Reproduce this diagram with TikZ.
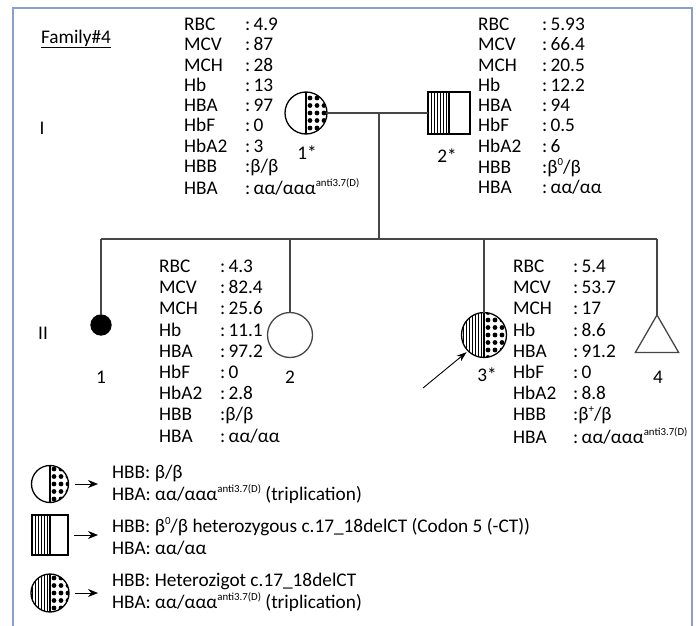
\documentclass[tikz,border=0pt]{standalone}
\usepackage{fontspec}
\setmainfont{Carlito}
\usetikzlibrary{shapes.geometric, arrows.meta}

\definecolor{framebl}{RGB}{138,158,208}
\definecolor{linegr}{RGB}{70,70,70}

% small raised text for allele names
\newcommand{\supr}[1]{\raisebox{0.42em}{\fontsize{10.8}{10.8}\selectfont #1}}
% fill patterns of the half symbols
\newcommand{\dotsR}{%
    \foreach \u in {4,11,...,30} \foreach \v in {-30,-22.5,...,30}
        \fill ([shift={(\u,\v)}]path picture bounding box.center) circle (2.4);
    \draw[line width=1.2pt] (path picture bounding box.north) -- (path picture bounding box.south);}
\newcommand{\stripesL}{%
    \foreach \u in {3,6,...,27}
        \draw[line width=0.8pt] ([xshift=-\u*1pt]path picture bounding box.north) -- ([xshift=-\u*1pt]path picture bounding box.south);
    \draw[line width=1.2pt] (path picture bounding box.north) -- (path picture bounding box.south);}

\tikzset{
    pline/.style={linegr, line width=1.3pt},
    person/.style={draw, line width=1.3pt, inner sep=0pt, outer sep=0pt},
    dotright/.style={path picture={\dotsR}},
    stripeleft/.style={path picture={\stripesL}},
    stripedot/.style={path picture={\stripesL\dotsR}},
    data/.style={anchor=base west, inner sep=0pt, font=\fontsize{19.3}{#1}\selectfont},
    note/.style={anchor=west, align=left, inner sep=0pt, font=\fontsize{19.3}{22}\selectfont},
    karrow/.style={-{Stealth[length=10pt, width=8pt]}, line width=1pt, shorten <=6pt, shorten >=14pt},
}

\begin{document}
\begin{tikzpicture}[x=1pt, y=-1pt, font=\fontsize{19.3}{22}\selectfont]
    \useasboundingbox (0,0) rectangle (696,626);
    \draw[framebl, line width=2pt] (13,626) -- (13,8) -- (692,8) -- (692,626);

    \node (fam) at (76,39) {\underline{Family\#4}};
    \node (gen1) at (42,128) {I};
    \node (gen2) at (43,333) {II};

    % generation I
    \node[person, circle, minimum size=42pt, dotright] (i1) at (306,113) {};
    \node[person, rectangle, minimum size=42pt, stripeleft] (i2) at (449,113) {};
    \node (n1) at (307,153) {1*};
    \node (n2) at (447,156) {2*};

    % generation II
    \node[person, circle, fill=black, minimum size=20pt] (c1) at (101,325) {};
    \node[person, circle, draw=linegr, minimum size=45pt] (c2) at (290,335) {};
    \node[person, circle, minimum size=45pt, stripedot] (c3) at (484,335) {};
    \node[person, regular polygon, regular polygon sides=3, draw=linegr, minimum size=50pt] (c4) at (657,340) {};
    \node (n3) at (101,377) {1};
    \node (n4) at (290,377) {2};
    \node (n5) at (487,375) {3*};
    \node (n6) at (658,377) {4};

    \coordinate (mid) at (379,113);
    \coordinate (sib) at (379,239);
    \draw[pline] (i1) -- (i2);
    \draw[pline] (mid) -- (sib);
    \draw[pline] (c1.north |- sib) -- (c4.north |- sib);
    \foreach \c in {c1,c2,c3,c4}
        \draw[pline] (\c.north) -- (\c.north |- sib);

    \coordinate (pro) at (423,388);
    \draw[-{Stealth[length=10pt, width=7pt]}, line width=0.9pt, shorten >=2pt] (pro) -- (c3.south west);

    % blood values
    \node[data=20.3] (d1) at (184,30.5) {\begin{tabular}[t]{@{}p{61pt}@{}l@{}}
        RBC & :\,4.9\\ MCV & :\,87\\ MCH & :\,28\\ Hb & :\,13\\ HBA & :\,97\\
        HbF & :\,0\\ HbA2 & :\,3\\ HBB & :β/β\\ HBA & :\,αα/ααα\supr{anti3.7(D)}
    \end{tabular}};
    \node[data=20.3] (d2) at (478,30.5) {\begin{tabular}[t]{@{}p{64pt}@{}l@{}}
        RBC & :\,5.93\\ MCV & :\,66.4\\ MCH & :\,20.5\\ Hb & :\,12.2\\ HBA & :\,94\\
        HbF & :\,0.5\\ HbA2 & :\,6\\ HBB & :β\supr{0}/β\\ HBA & :\,αα/αα
    \end{tabular}};
    \node[data=21.2] (d3) at (159,272.5) {\begin{tabular}[t]{@{}p{61pt}@{}l@{}}
        RBC & :\,4.3\\ MCV & :\,82.4\\ MCH & :\,25.6\\ Hb & :\,11.1\\ HBA & :\,97.2\\
        HbF & :\,0\\ HbA2 & :\,2.8\\ HBB & :β/β\\ HBA & :\,αα/αα
    \end{tabular}};
    \node[data=21.2] (d4) at (513,272.5) {\begin{tabular}[t]{@{}p{60pt}@{}l@{}}
        RBC & :\,5.4\\ MCV & :\,53.7\\ MCH & :\,17\\ Hb & :\,8.6\\ HBA & :\,91.2\\
        HbF & :\,0\\ HbA2 & :\,8.8\\ HBB & :β\supr{+}/β\\ HBA & :\,αα/ααα\supr{anti3.7(D)}
    \end{tabular}};

    % key
    \node[person, circle, minimum size=37pt, dotright] (k1) at (50,484) {};
    \node[person, rectangle, minimum width=36pt, minimum height=40pt, stripeleft] (k2) at (50,535) {};
    \node[person, circle, minimum size=38pt, stripedot] (k3) at (50,593) {};
    \node[note] (t1) at (112,484.5) {HBB: β/β\\HBA: αα/ααα\supr{anti3.7(D)} (triplication)};
    \node[note] (t2) at (112,536.5) {HBB: β\supr{0}/β heterozygous c.17\_18delCT (Codon 5 (-CT))\\HBA: αα/αα};
    \node[note] (t3) at (112,592.5) {HBB: Heterozigot c.17\_18delCT\\HBA: αα/ααα\supr{anti3.7(D)} (triplication)};
    \draw[karrow] (k1) -- (k1 -| t1.west);
    \draw[karrow] (k2) -- (k2 -| t2.west);
    \draw[karrow] (k3) -- (k3 -| t3.west);
\end{tikzpicture}
\end{document}
